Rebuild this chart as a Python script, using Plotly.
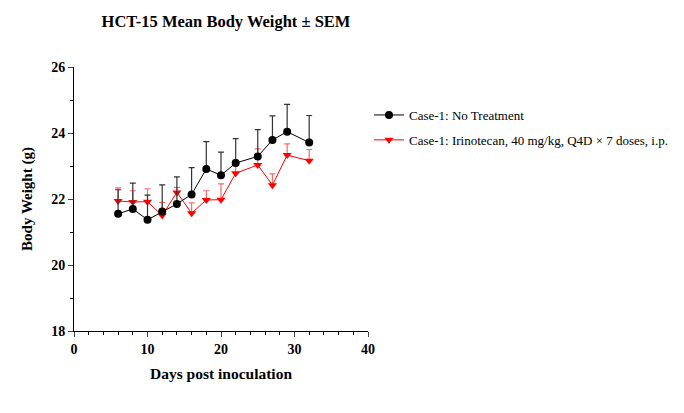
import plotly.graph_objects as go

days = [6, 8, 10, 12, 14, 16, 18, 20, 22, 25, 27, 29, 32]

ctrl_mean = [21.55, 21.70, 21.37, 21.62, 21.85, 22.14, 22.91, 22.72, 23.09, 23.29, 23.79, 24.04, 23.71]
ctrl_upper = [22.28, 22.48, 22.12, 22.43, 22.67, 22.95, 23.74, 23.42, 23.83, 24.10, 24.52, 24.87, 24.53]

trt_mean = [21.94, 21.91, 21.92, 21.50, 22.20, 21.57, 21.97, 21.98, 22.78, 23.03, 22.42, 23.33, 23.16]
trt_upper = [22.34, 22.25, 22.31, 21.90, 22.35, 21.88, 22.25, 22.46, 23.18, 23.52, 22.76, 23.67, 23.50]

ctrl_name = "Case-1: No Treatment"
trt_name = "Case-1: Irinotecan, 40 mg/kg, Q4D × 7 doses, i.p."

ctrl_err = [u - m for u, m in zip(ctrl_upper, ctrl_mean)]
trt_err = [u - m for u, m in zip(trt_upper, trt_mean)]

FONT = "Liberation Serif, Times New Roman, serif"

fig = go.Figure()
fig.add_trace(go.Scatter(
    x=days, y=trt_mean, name=trt_name, mode="lines+markers",
    line=dict(color="#ff0000", width=1),
    marker=dict(symbol="triangle-down", size=8, color="#ff0000"),
    error_y=dict(type="data", symmetric=False, array=trt_err, arrayminus=[0] * len(trt_err),
                 color="rgba(255,0,0,0.6)", thickness=1.2, width=3),
    legendgroup="b", legendrank=2,
))
fig.add_trace(go.Scatter(
    x=days, y=ctrl_mean, name=ctrl_name, mode="lines+markers",
    line=dict(color="#000000", width=1),
    marker=dict(symbol="circle", size=8, color="#000000"),
    error_y=dict(type="data", symmetric=False, array=ctrl_err, arrayminus=[0] * len(ctrl_err),
                 color="#333333", thickness=1.2, width=3),
    legendgroup="a", legendrank=1,
))

fig.update_layout(
    width=684, height=413,
    margin=dict(l=73.5, r=314.5, t=66.7, b=82),
    paper_bgcolor="white", plot_bgcolor="white",
    font=dict(family=FONT, color="#000000", size=13),
    title=dict(text="<b>HCT-15 Mean Body Weight ± SEM</b>", xref="container", yref="container",
               x=226 / 684, xanchor="center", y=1 - 21.5 / 413, yanchor="middle",
               font=dict(size=16.5, family=FONT)),
    showlegend=True,
    legend=dict(x=1.0, xanchor="left", y=0.875, yanchor="top", traceorder="grouped",
                tracegroupgap=5, font=dict(size=13, family=FONT), itemwidth=30,
                bgcolor="rgba(0,0,0,0)"),
)
fig.update_xaxes(
    range=[0, 40], tickvals=[0, 10, 20, 30, 40], ticks="outside", ticklen=5, tickwidth=1,
    showline=True, linecolor="#000000", linewidth=1, showgrid=False, zeroline=False,
    tickfont=dict(size=14, family=FONT, weight="bold"),
    minor=dict(dtick=2, ticks="outside", ticklen=3, tickwidth=1, tickcolor="#000000", showgrid=False),
    title=dict(text="<b>Days post inoculation</b>", font=dict(size=15.5, family=FONT), standoff=12),
)
fig.update_yaxes(
    range=[18, 26], tickvals=[18, 20, 22, 24, 26], ticks="outside", ticklen=5, tickwidth=1,
    showline=True, linecolor="#000000", linewidth=1, showgrid=False, zeroline=False,
    tickfont=dict(size=14, family=FONT, weight="bold"),
    minor=dict(dtick=1, ticks="outside", ticklen=3, tickwidth=1, tickcolor="#000000", showgrid=False),
    title=dict(text="<b>Body Weight (g)</b>", font=dict(size=15, family=FONT), standoff=14),
)

fig.write_html("out.html")
